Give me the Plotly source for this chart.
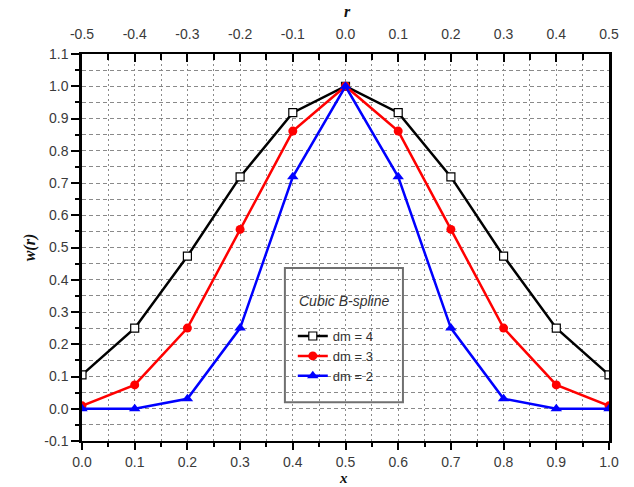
import plotly.graph_objects as go

# Node positions and the matching offset from the centre node
x_nodes = [0.0, 0.1, 0.2, 0.3, 0.4, 0.5, 0.6, 0.7, 0.8, 0.9, 1.0]
r_nodes = [-0.5, -0.4, -0.3, -0.2, -0.1, 0.0, 0.1, 0.2, 0.3, 0.4, 0.5]

# Cubic B-spline weights for three support sizes
w_dm4 = [0.105, 0.25, 0.473, 0.719, 0.918, 1.0, 0.918, 0.719, 0.473, 0.25, 0.105]
w_dm3 = [0.009, 0.074, 0.25, 0.556, 0.861, 1.0, 0.861, 0.556, 0.25, 0.074, 0.009]
w_dm2 = [0.0, 0.0, 0.031, 0.25, 0.719, 1.0, 0.719, 0.25, 0.031, 0.0, 0.0]

# Tick labels
x_ticks = ["0.0", "0.1", "0.2", "0.3", "0.4", "0.5", "0.6", "0.7", "0.8", "0.9", "1.0"]
r_ticks = ["-0.5", "-0.4", "-0.3", "-0.2", "-0.1", "0.0", "0.1", "0.2", "0.3", "0.4", "0.5"]
y_vals = [-0.1, 0.0, 0.1, 0.2, 0.3, 0.4, 0.5, 0.6, 0.7, 0.8, 0.9, 1.0, 1.1]
y_ticks = ["-0.1", "0.0", "0.1", "0.2", "0.3", "0.4", "0.5", "0.6", "0.7", "0.8", "0.9", "1.0", "1.1"]

TICK_FONT = dict(family="Liberation Sans, Arial, sans-serif", size=14, color="#3a3a3a")
TITLE_FONT = dict(family="Liberation Serif, Times New Roman, serif", size=16,
                  color="#111111", weight="bold", style="italic")
GRID = "#8a8a8a"

fig = go.Figure()

fig.add_trace(go.Scatter(
    x=x_nodes, y=w_dm4, mode="lines+markers", name="dm = 4",
    line=dict(color="#000000", width=2.5),
    marker=dict(symbol="square", size=8, color="#ffffff",
                line=dict(color="#000000", width=1.2)),
))
fig.add_trace(go.Scatter(
    x=x_nodes, y=w_dm3, mode="lines+markers", name="dm = 3",
    line=dict(color="#ff0000", width=2.5),
    marker=dict(symbol="circle", size=9, color="#ff0000"),
))
fig.add_trace(go.Scatter(
    x=x_nodes, y=w_dm2, mode="lines+markers", name="dm = 2",
    line=dict(color="#0000ff", width=2.5),
    marker=dict(symbol="triangle-up", size=10, color="#0000ff"),
))
# Invisible trace carrying the top r axis
fig.add_trace(go.Scatter(
    x=r_nodes, y=w_dm4, xaxis="x2", mode="markers",
    marker=dict(opacity=0), showlegend=False, hoverinfo="skip",
))

fig.update_layout(
    width=634, height=487,
    margin=dict(l=82, r=25, t=54, b=46),
    paper_bgcolor="white", plot_bgcolor="white",
    xaxis=dict(
        range=[0, 1], tickvals=x_nodes, ticktext=x_ticks,
        ticks="outside", ticklen=7, tickwidth=2, tickcolor="#000",
        showline=True, linecolor="#000", linewidth=2,
        showgrid=True, gridcolor=GRID, gridwidth=1, griddash="2px,3px",
        zeroline=False, tickfont=TICK_FONT,
        minor=dict(dtick=0.05, ticks="outside", ticklen=4, tickwidth=2,
                   tickcolor="#000", showgrid=True, gridcolor=GRID,
                   gridwidth=1, griddash="2px,3px"),
    ),
    xaxis2=dict(
        range=[-0.5, 0.5], overlaying="x", side="top", anchor="y",
        tickvals=r_nodes, ticktext=r_ticks,
        ticks="inside", ticklen=8, tickwidth=2, tickcolor="#000",
        showline=True, linecolor="#000", linewidth=2,
        showgrid=False, zeroline=False, tickfont=TICK_FONT,
        ticklabelstandoff=7,
        minor=dict(dtick=0.05, ticks="inside", ticklen=6, tickwidth=2,
                   tickcolor="#000"),
    ),
    yaxis=dict(
        range=[-0.1, 1.1], tickvals=y_vals, ticktext=y_ticks,
        ticks="outside", ticklen=8, tickwidth=2, tickcolor="#000",
        showline=True, linecolor="#000", linewidth=2.5, mirror=True,
        showgrid=True, gridcolor=GRID, gridwidth=1, griddash="4px,3px",
        zeroline=False, tickfont=TICK_FONT,
        minor=dict(dtick=0.05, ticks="outside", ticklen=4, tickwidth=2,
                   tickcolor="#000", showgrid=True, gridcolor=GRID,
                   gridwidth=1, griddash="4px,3px"),
    ),
    showlegend=True,
    legend=dict(
        x=0.40, y=0.31, xanchor="left", yanchor="top",
        bgcolor="rgba(0,0,0,0)", borderwidth=0,
        font=dict(family="Liberation Sans, Arial, sans-serif", size=13, color="#333333"),
        tracegroupgap=0, itemwidth=30,
    ),
    shapes=[dict(
        type="rect", xref="paper", yref="paper",
        x0=0.385, x1=0.609, y0=0.100, y1=0.447,
        line=dict(color="#707070", width=2), fillcolor="white", layer="below",
    )],
    annotations=[
        dict(text="Cubic B-spline", xref="paper", yref="paper", x=0.497, y=0.362,
             showarrow=False, xanchor="center", yanchor="middle",
             font=dict(family="Liberation Sans, Arial, sans-serif", size=14,
                       color="#333333", style="italic")),
        dict(text="r", xref="paper", yref="paper", x=0.503, y=1.11,
             showarrow=False, xanchor="center", yanchor="middle", font=TITLE_FONT),
        dict(text="x", xref="paper", yref="paper", x=0.497, y=-0.118,
             showarrow=False, xanchor="center", yanchor="bottom", borderpad=0,
             font=dict(TITLE_FONT, size=15)),
        dict(text="w(r)", xref="paper", yref="paper", x=-0.099, y=0.5,
             showarrow=False, xanchor="center", yanchor="middle", textangle=-90,
             font=TITLE_FONT),
    ],
)

fig.write_html("out.html")
